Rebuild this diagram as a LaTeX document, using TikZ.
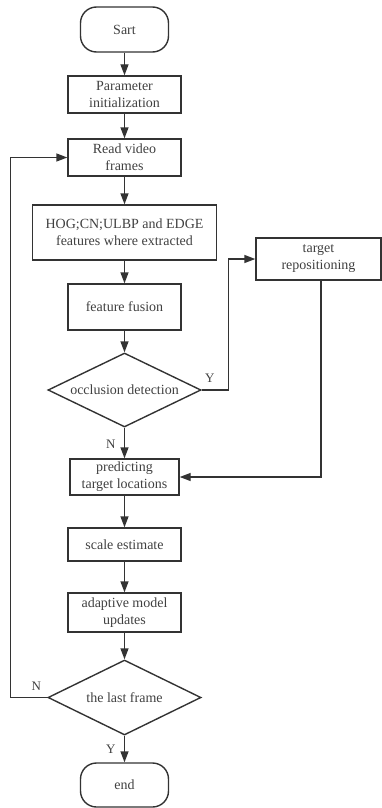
\documentclass[tikz,border=0pt]{standalone}
\usepackage{fontspec}
\setmainfont{Liberation Serif}
\usetikzlibrary{shapes.geometric, arrows.meta, calc}

\begin{document}
\begin{tikzpicture}[
    x=1pt, y=-1pt,
    % Node styles
    termbox/.style={
        rectangle,
        rounded corners=16pt,
        draw=black!80,
        line width=1.4pt,
        minimum width=88pt,
        minimum height=45pt,
        text=black!75,
        font=\fontsize{14}{17}\selectfont,
        align=center
    },
    procbox/.style={
        rectangle,
        draw=black!80,
        line width=1.4pt,
        inner sep=0pt,
        minimum width=113pt,
        minimum height=37pt,
        text=black!75,
        font=\fontsize{14}{17}\selectfont,
        align=center
    },
    decbox/.style={
        diamond,
        aspect=2,
        draw=black!80,
        line width=1.4pt,
        inner sep=0pt,
        minimum width=153pt,
        minimum height=75pt,
        text=black!75,
        font=\fontsize{14}{17}\selectfont,
        align=center
    },
    lbl/.style={
        text=black!75,
        font=\fontsize{13}{15}\selectfont
    },
    arrow/.style={
        ->,
        >={Triangle[width=8pt, length=11pt]},
        line width=1.4pt,
        black!80
    }
]
\useasboundingbox (0,0) rectangle (382,808);

% === Main column ===
\node[termbox] (start) at (124.5, 29.5) {Sart};
\node[procbox] (param) at (124.5, 94.5) {Parameter\\initialization};
\node[procbox] (read) at (124.5, 157.5) {Read video\\frames};
\node[procbox, minimum width=184pt, minimum height=55pt] (feat) at (124.5, 232.5)
    {HOG;CN;ULBP and EDGE\\features where extracted};
\node[procbox, minimum height=46pt] (fusion) at (124.5, 307) {feature fusion};
\node[decbox, minimum height=74pt] (occl) at (124.5, 390) {occlusion detection};
\node[procbox, minimum width=109pt, minimum height=36pt] (predict) at (124.5, 477)
    {predicting\\target locations};
\node[procbox, minimum height=33pt] (scale) at (124.5, 544.5) {scale estimate};
\node[procbox, minimum height=39pt] (update) at (124.5, 612.5) {adaptive model\\updates};
\node[decbox] (last) at (124.5, 697.5) {the last frame};
\node[termbox, minimum height=44pt] (finish) at (124.5, 785) {end};

% === Side branch ===
\node[procbox, minimum width=125pt, minimum height=42pt] (repos) at (318.5, 259)
    {target\\repositioning};

% === Arrows ===
\draw[arrow] (start) -- (param);
\draw[arrow] (param) -- (read);
\draw[arrow] (read) -- (feat);
\draw[arrow] (feat) -- (fusion);
\draw[arrow] (fusion) -- (occl);
\draw[arrow] (occl) -- node[lbl, pos=0.55, left=5pt] {N} (predict);
\draw[arrow] (predict) -- (scale);
\draw[arrow] (scale) -- (update);
\draw[arrow] (update) -- (last);
\draw[arrow] (last) -- node[lbl, pos=0.5, left=5pt] {Y} (finish);

% === Occlusion branch ===
\draw[arrow] (occl.east) -- node[lbl, pos=0.3, above=3pt] {Y} ++(27,0) |- (repos.west);
\draw[arrow] ($(repos.south)+(2.5,0)$) |- (predict.east);

% === Loop back ===
\draw[arrow] (last.west) -- node[lbl, pos=0.3, above=3pt] {N} ++(-37,0) |- (read.west);

\end{tikzpicture}
\end{document}
